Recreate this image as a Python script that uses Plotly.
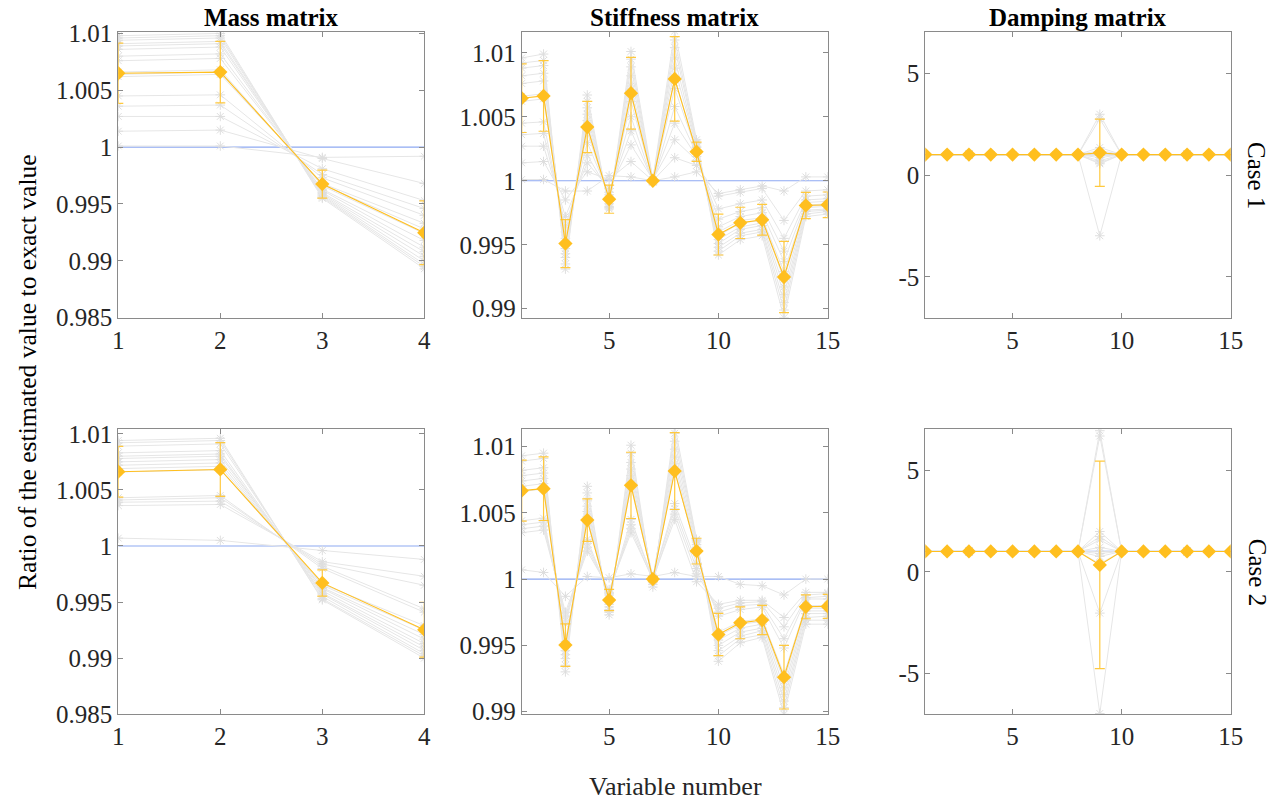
import plotly.graph_objects as go

# ---------------- data ----------------
mass_vars = [1, 2, 3, 4]
dof_vars = [1, 2, 3, 4, 5, 6, 7, 8, 9, 10, 11, 12, 13, 14, 15]
ref_value = 1.0

# Each inner list = one variable, values = individual realisations (grey lines)
mass1_runs = [
    [1.0001, 1.0014, 1.0027, 1.0036, 1.0045, 1.0062, 1.0064, 1.0066, 1.0076, 1.0080, 1.0086, 1.0089, 1.0091, 1.0094, 1.0096, 1.0098],
    [1.0001, 1.0015, 1.0027, 1.0037, 1.0046, 1.0064, 1.0066, 1.0068, 1.0078, 1.0082, 1.0088, 1.0091, 1.0093, 1.0096, 1.0098, 1.0100],
    [0.9991, 0.9990, 0.9981, 0.9976, 0.9973, 0.9968, 0.9967, 0.9966, 0.9963, 0.9962, 0.9960, 0.9959, 0.9958, 0.9957, 0.9956, 0.9955],
    [0.9992, 0.9968, 0.9953, 0.9946, 0.9940, 0.9933, 0.9928, 0.9924, 0.9918, 0.9912, 0.9908, 0.9904, 0.9900, 0.9897, 0.9895, 0.9893],
]
mass1_mean = [1.0065, 1.0066, 0.99675, 0.99247]
mass1_std = [0.00265, 0.0027, 0.00123, 0.0028]

mass2_runs = [
    [1.0007, 1.0036, 1.0039, 1.0041, 1.0043, 1.0066, 1.0069, 1.0072, 1.0075, 1.0078, 1.0080, 1.0083, 1.0089, 1.0092, 1.0094],
    [1.0005, 1.0037, 1.0040, 1.0043, 1.0045, 1.0068, 1.0071, 1.0074, 1.0077, 1.0080, 1.0082, 1.0085, 1.0091, 1.0094, 1.0096],
    [0.9996, 0.9986, 0.9984, 0.9982, 0.9980, 0.9966, 0.9965, 0.9963, 0.9962, 0.9960, 0.9958, 0.9957, 0.9955, 0.9953, 0.9952],
    [0.9988, 0.9973, 0.9965, 0.9944, 0.9941, 0.9929, 0.9925, 0.9921, 0.9917, 0.9913, 0.9910, 0.9907, 0.9904, 0.9902, 0.9900],
]
mass2_mean = [1.00662, 1.00682, 0.99671, 0.99254]
mass2_std = [0.00226, 0.0024, 0.00117, 0.00244]

stiff1_runs = [
    [1.0001, 1.0014, 1.0027, 1.0036, 1.0045, 1.0062, 1.0066, 1.0076, 1.0082, 1.0088, 1.0092, 1.0096],
    [1.0001, 1.0015, 1.0027, 1.0037, 1.0046, 1.0064, 1.0068, 1.0078, 1.0084, 1.0090, 1.0094, 1.0099],
    [0.9992, 0.9985, 0.9972, 0.9965, 0.9960, 0.9955, 0.9951, 0.9947, 0.9943, 0.9940, 0.9935, 0.9931],
    [0.9992, 1.0007, 1.0014, 1.0020, 1.0030, 1.0038, 1.0043, 1.0047, 1.0052, 1.0057, 1.0062, 1.0067],
    [1.0004, 1.0001, 0.9994, 0.9991, 0.9989, 0.9987, 0.9985, 0.9984, 0.9982, 0.9980, 0.9979, 0.9978],
    [1.0003, 1.0015, 1.0028, 1.0039, 1.0050, 1.0062, 1.0068, 1.0074, 1.0082, 1.0089, 1.0095, 1.0101],
    [1.0000, 1.0000, 1.0001, 1.0000, 0.9999, 1.0000, 1.0000, 1.0001, 1.0000, 0.9999, 1.0000, 1.0001],
    [1.0003, 1.0018, 1.0032, 1.0045, 1.0058, 1.0072, 1.0080, 1.0088, 1.0096, 1.0104, 1.0110, 1.0117],
    [1.0007, 1.0012, 1.0016, 1.0019, 1.0021, 1.0023, 1.0024, 1.0026, 1.0027, 1.0029, 1.0030, 1.0032],
    [0.9990, 0.9988, 0.9978, 0.9970, 0.9964, 0.9960, 0.9957, 0.9954, 0.9951, 0.9948, 0.9945, 0.9942],
    [0.9993, 0.9991, 0.9982, 0.9976, 0.9972, 0.9969, 0.9967, 0.9964, 0.9962, 0.9959, 0.9957, 0.9954],
    [0.9996, 0.9994, 0.9985, 0.9979, 0.9975, 0.9971, 0.9969, 0.9967, 0.9965, 0.9962, 0.9960, 0.9957],
    [0.9992, 0.9969, 0.9955, 0.9945, 0.9937, 0.9929, 0.9923, 0.9917, 0.9911, 0.9905, 0.9899, 0.9893],
    [1.0003, 0.9992, 0.9988, 0.9985, 0.9983, 0.9981, 0.9980, 0.9979, 0.9977, 0.9976, 0.9974, 0.9972],
    [1.0003, 0.9993, 0.9989, 0.9986, 0.9984, 0.9982, 0.9981, 0.9980, 0.9978, 0.9977, 0.9976, 0.9974],
]
stiff1_mean = [1.00645, 1.00663, 0.99509, 1.0042, 0.99856, 1.00684, 1.0000, 1.00796, 1.00227,
               0.9958, 0.99671, 0.99695, 0.99248, 0.99807, 0.99812]
stiff1_std = [0.00268, 0.00276, 0.00188, 0.0020, 0.0011, 0.0028, 0.0001, 0.0033, 0.00075,
              0.0016, 0.00122, 0.0012, 0.00278, 0.00103, 0.0010]

stiff2_runs = [
    [1.0007, 1.0035, 1.0038, 1.0041, 1.0044, 1.0066, 1.0070, 1.0074, 1.0078, 1.0082, 1.0089, 1.0093],
    [1.0005, 1.0037, 1.0040, 1.0043, 1.0046, 1.0068, 1.0072, 1.0076, 1.0080, 1.0084, 1.0091, 1.0095],
    [0.9987, 0.9975, 0.9972, 0.9969, 0.9966, 0.9953, 0.9950, 0.9946, 0.9943, 0.9940, 0.9935, 0.9930],
    [1.0002, 1.0021, 1.0024, 1.0027, 1.0030, 1.0044, 1.0047, 1.0051, 1.0055, 1.0059, 1.0065, 1.0070],
    [1.0001, 0.9992, 0.9990, 0.9989, 0.9988, 0.9984, 0.9983, 0.9981, 0.9979, 0.9977, 0.9975, 0.9973],
    [1.0004, 1.0035, 1.0038, 1.0041, 1.0045, 1.0070, 1.0074, 1.0078, 1.0083, 1.0088, 1.0095, 1.0101],
    [1.0002, 1.0000, 0.9999, 1.0001, 1.0000, 1.0000, 0.9999, 1.0001, 1.0000, 0.9998, 0.9996, 0.9994],
    [1.0005, 1.0045, 1.0049, 1.0053, 1.0057, 1.0082, 1.0087, 1.0092, 1.0098, 1.0104, 1.0110, 1.0116],
    [1.0002, 0.9998, 1.0004, 1.0008, 1.0012, 1.0020, 1.0022, 1.0024, 1.0026, 1.0028, 1.0029, 1.0030],
    [1.0002, 0.9981, 0.9978, 0.9975, 0.9972, 0.9960, 0.9957, 0.9954, 0.9950, 0.9946, 0.9942, 0.9938],
    [0.9996, 0.9984, 0.9982, 0.9980, 0.9977, 0.9968, 0.9966, 0.9963, 0.9960, 0.9957, 0.9955, 0.9952],
    [0.9995, 0.9984, 0.9983, 0.9981, 0.9979, 0.9970, 0.9968, 0.9966, 0.9963, 0.9961, 0.9958, 0.9956],
    [0.9988, 0.9971, 0.9964, 0.9955, 0.9948, 0.9928, 0.9923, 0.9918, 0.9913, 0.9908, 0.9903, 0.9898],
    [1.0000, 0.9990, 0.9988, 0.9986, 0.9985, 0.9980, 0.9978, 0.9976, 0.9974, 0.9971, 0.9969, 0.9966],
    [1.0000, 0.9990, 0.9989, 0.9987, 0.9985, 0.9980, 0.9978, 0.9976, 0.9974, 0.9972, 0.9969, 0.9966],
]
stiff2_mean = [1.00667, 1.00682, 0.99502, 1.00445, 0.99842, 1.00707, 1.0000, 1.00815, 1.00211,
               0.99582, 0.9967, 0.99691, 0.9926, 0.99791, 0.99794]
stiff2_std = [0.0023, 0.0024, 0.0016, 0.0016, 0.0008, 0.0025, 0.0002, 0.0029, 0.00097,
              0.0016, 0.0012, 0.0011, 0.0024, 0.0009, 0.0009]

damp1_runs = [
    [1.0, 1.0, 1.0, 1.0, 1.0, 1.0, 1.0, 1.0, 1.0, 1.0, 1.0, 1.0],
    [1.0, 1.0, 1.0, 1.0, 1.0, 1.0, 1.0, 1.0, 1.0, 1.0, 1.0, 1.0],
    [1.0, 1.0, 1.0, 1.0, 1.0, 1.0, 1.0, 1.0, 1.0, 1.0, 1.0, 1.0],
    [1.0, 1.0, 1.0, 1.0, 1.0, 1.0, 1.0, 1.0, 1.0, 1.0, 1.0, 1.0],
    [1.0, 1.0, 1.0, 1.0, 1.0, 1.0, 1.0, 1.0, 1.0, 1.0, 1.0, 1.0],
    [1.0, 1.0, 1.0, 1.0, 1.0, 1.0, 1.0, 1.0, 1.0, 1.0, 1.0, 1.0],
    [1.0, 1.0, 1.0, 1.0, 1.0, 1.0, 1.0, 1.0, 1.0, 1.0, 1.0, 1.0],
    [1.0, 1.0, 1.0, 1.0, 1.0, 1.0, 1.0, 1.0, 1.0, 1.0, 1.0, 1.0],
    [2.98, 2.75, -2.98, 1.35, 1.2, 1.1, 1.0, 0.95, 0.85, 0.7, 0.6, 0.55],
    [1.0, 1.0, 1.0, 1.0, 1.0, 1.0, 1.0, 1.0, 1.0, 1.0, 1.0, 1.0],
    [1.0, 1.0, 1.0, 1.0, 1.0, 1.0, 1.0, 1.0, 1.0, 1.0, 1.0, 1.0],
    [1.0, 1.0, 1.0, 1.0, 1.0, 1.0, 1.0, 1.0, 1.0, 1.0, 1.0, 1.0],
    [1.0, 1.0, 1.0, 1.0, 1.0, 1.0, 1.0, 1.0, 1.0, 1.0, 1.0, 1.0],
    [1.0, 1.0, 1.0, 1.0, 1.0, 1.0, 1.0, 1.0, 1.0, 1.0, 1.0, 1.0],
    [1.0, 1.0, 1.0, 1.0, 1.0, 1.0, 1.0, 1.0, 1.0, 1.0, 1.0, 1.0],
]
damp1_mean = [1.0, 1.0, 1.0, 1.0, 1.0, 1.0, 1.0, 1.0, 1.09, 1.0, 1.0, 1.0, 1.0, 1.0, 1.0]
damp1_std = [0, 0, 0, 0, 0, 0, 0, 0, 1.65, 0, 0, 0, 0, 0, 0]

damp2_runs = [
    [1.0, 1.0, 1.0, 1.0, 1.0, 1.0, 1.0, 1.0, 1.0, 1.0, 1.0, 1.0],
    [1.0, 1.0, 1.0, 1.0, 1.0, 1.0, 1.0, 1.0, 1.0, 1.0, 1.0, 1.0],
    [1.0, 1.0, 1.0, 1.0, 1.0, 1.0, 1.0, 1.0, 1.0, 1.0, 1.0, 1.0],
    [1.0, 1.0, 1.0, 1.0, 1.0, 1.0, 1.0, 1.0, 1.0, 1.0, 1.0, 1.0],
    [1.0, 1.0, 1.0, 1.0, 1.0, 1.0, 1.0, 1.0, 1.0, 1.0, 1.0, 1.0],
    [1.0, 1.0, 1.0, 1.0, 1.0, 1.0, 1.0, 1.0, 1.0, 1.0, 1.0, 1.0],
    [1.0, 1.0, 1.0, 1.0, 1.0, 1.0, 1.0, 1.0, 1.0, 1.0, 1.0, 1.0],
    [1.0, 1.0, 1.0, 1.0, 1.0, 1.0, 1.0, 1.0, 1.0, 1.0, 1.0, 1.0],
    [6.93, 6.67, -6.96, -2.03, 1.98, 1.73, 1.57, 1.2, 1.0, 0.9, 0.75, 0.4],
    [1.0, 1.0, 1.0, 1.0, 1.0, 1.0, 1.0, 1.0, 1.0, 1.0, 1.0, 1.0],
    [1.0, 1.0, 1.0, 1.0, 1.0, 1.0, 1.0, 1.0, 1.0, 1.0, 1.0, 1.0],
    [1.0, 1.0, 1.0, 1.0, 1.0, 1.0, 1.0, 1.0, 1.0, 1.0, 1.0, 1.0],
    [1.0, 1.0, 1.0, 1.0, 1.0, 1.0, 1.0, 1.0, 1.0, 1.0, 1.0, 1.0],
    [1.0, 1.0, 1.0, 1.0, 1.0, 1.0, 1.0, 1.0, 1.0, 1.0, 1.0, 1.0],
    [1.0, 1.0, 1.0, 1.0, 1.0, 1.0, 1.0, 1.0, 1.0, 1.0, 1.0, 1.0],
]
damp2_mean = [1.0, 1.0, 1.0, 1.0, 1.0, 1.0, 1.0, 1.0, 0.34, 1.0, 1.0, 1.0, 1.0, 1.0, 1.0]
damp2_std = [0, 0, 0, 0, 0, 0, 0, 0, 5.1, 0, 0, 0, 0, 0, 0]

col_titles = ["Mass matrix", "Stiffness matrix", "Damping matrix"]
row_titles = ["Case 1", "Case 2"]
mass_yticks = [0.985, 0.99, 0.995, 1, 1.005, 1.01]
mass_yticklabels = ["0.985", "0.99", "0.995", "1", "1.005", "1.01"]
stiff_yticks = [0.99, 0.995, 1, 1.005, 1.01]
stiff_yticklabels = ["0.99", "0.995", "1", "1.005", "1.01"]
damp_yticks = [-5, 0, 5]
damp_yticklabels = ["-5", "0", "5"]
mass_xticks = [1, 2, 3, 4]
dof_xticks = [5, 10, 15]

# ---------------- style ----------------
FONT = "Liberation Serif"
W, H = 1279, 803
GREY = "#e6e6e6"
GREY_MK = "#dedede"
BLUE = "#8ea9f2"
ORANGE = "#ffbf1f"
ERR = "#ffc93f"
AXC = "#8a8a8a"
TXT = "#262626"

col_px = [(118.3, 424.3), (521.7, 827.7), (925.3, 1230.7)]
row_px = [(32.3, 317.7), (429.3, 714.3)]

panels = [
    # (row, col, x, runs, mean, std, yrange, yticks, yticklabels, xticks)
    (0, 0, mass_vars, mass1_runs, mass1_mean, mass1_std, [0.985, 1.0101], mass_yticks, mass_yticklabels, mass_xticks),
    (0, 1, dof_vars, stiff1_runs, stiff1_mean, stiff1_std, [0.9893, 1.0116], stiff_yticks, stiff_yticklabels, dof_xticks),
    (0, 2, dof_vars, damp1_runs, damp1_mean, damp1_std, [-7, 7], damp_yticks, damp_yticklabels, dof_xticks),
    (1, 0, mass_vars, mass2_runs, mass2_mean, mass2_std, [0.985, 1.0104], mass_yticks, mass_yticklabels, mass_xticks),
    (1, 1, dof_vars, stiff2_runs, stiff2_mean, stiff2_std, [0.9898, 1.0113], stiff_yticks, stiff_yticklabels, dof_xticks),
    (1, 2, dof_vars, damp2_runs, damp2_mean, damp2_std, [-7, 7], damp_yticks, damp_yticklabels, dof_xticks),
]

fig = go.Figure()
layout = dict(
    width=W, height=H,
    margin=dict(l=0, r=0, t=0, b=0, autoexpand=False),
    paper_bgcolor="white", plot_bgcolor="white",
    showlegend=False,
    font=dict(family=FONT, size=24, color=TXT),
)

for i, (r, c, xv, runs, mean, std, yr, yt, ytl, xt) in enumerate(panels):
    k = "" if i == 0 else str(i + 1)
    xa, ya = "x" + k, "y" + k
    x0, x1 = col_px[c]
    y0, y1 = row_px[r]
    axis_common = dict(
        showline=True, linecolor=AXC, linewidth=1, mirror="allticks",
        ticks="inside", ticklen=5, tickwidth=1, tickcolor=AXC,
        showgrid=False, zeroline=False, automargin=False,
        tickfont=dict(family=FONT, size=25, color=TXT),
    )
    layout["xaxis" + k] = dict(
        axis_common, domain=[x0 / W, x1 / W], anchor=ya,
        range=[xv[0], xv[-1]], tickvals=xt, ticktext=[str(t) for t in xt],
    )
    layout["yaxis" + k] = dict(
        axis_common, domain=[1 - y1 / H, 1 - y0 / H], anchor=xa,
        range=yr, tickvals=yt, ticktext=ytl,
    )
    # reference line at exact value
    fig.add_trace(go.Scatter(
        x=[xv[0], xv[-1]], y=[ref_value, ref_value], mode="lines",
        line=dict(color=BLUE, width=1.2), xaxis=xa, yaxis=ya, hoverinfo="skip",
    ))
    # grey realisations
    nruns = len(runs[0])
    for j in range(nruns):
        fig.add_trace(go.Scatter(
            x=xv, y=[runs[v][j] for v in range(len(xv))],
            mode="lines+markers",
            line=dict(color=GREY, width=1),
            marker=dict(symbol="asterisk-open", size=8, color=GREY_MK,
                        line=dict(width=1, color=GREY_MK)),
            xaxis=xa, yaxis=ya, hoverinfo="skip",
        ))
    # mean with error bars
    fig.add_trace(go.Scatter(
        x=xv, y=mean, mode="lines+markers",
        line=dict(color=ORANGE, width=1.1),
        marker=dict(symbol="diamond", size=11, color=ORANGE),
        error_y=dict(type="data", array=std, visible=True, color=ERR,
                     thickness=1.2, width=5),
        xaxis=xa, yaxis=ya,
    ))

annotations = []
for c, t in enumerate(col_titles):
    x0, x1 = col_px[c]
    annotations.append(dict(
        text="<b>%s</b>" % t, x=(x0 + x1) / 2 / W, y=1 - 17.5 / H,
        xref="paper", yref="paper", showarrow=False,
        font=dict(family=FONT, size=25, color="black"),
        xanchor="center", yanchor="middle",
    ))
for r, t in enumerate(row_titles):
    y0, y1 = row_px[r]
    annotations.append(dict(
        text=t, x=1257 / W, y=1 - (y0 + y1) / 2 / H,
        xref="paper", yref="paper", showarrow=False, textangle=90,
        font=dict(family=FONT, size=25, color="black"),
        xanchor="center", yanchor="middle",
    ))
annotations.append(dict(
    text="Ratio of the estimated value to exact value", x=27 / W, y=1 - 372 / H,
    xref="paper", yref="paper", showarrow=False, textangle=-90,
    font=dict(family=FONT, size=25.6, color="black"),
    xanchor="center", yanchor="middle",
))
annotations.append(dict(
    text="Variable number", x=675.5 / W, y=1 - 786 / H,
    xref="paper", yref="paper", showarrow=False,
    font=dict(family=FONT, size=26, color=TXT),
    xanchor="center", yanchor="middle",
))
layout["annotations"] = annotations

fig.update_layout(**layout)
fig.write_html(
    "out.html",
    config={"displayModeBar": False},
    post_script="document.body.style.margin='0';document.body.style.padding='0';document.body.style.overflow='hidden';",
)
